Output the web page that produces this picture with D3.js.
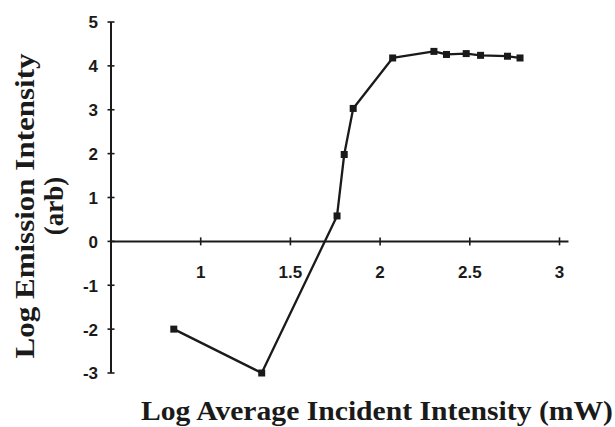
<!DOCTYPE html>
<html><head><meta charset="utf-8">
<script src="https://cdn.jsdelivr.net/npm/d3@7"></script>
<style>body{margin:0;background:#fff}svg{display:block}</style>
</head><body>
<svg id="c" width="615" height="427"></svg>
<script>
const xValues = [0.85, 1.34, 1.76, 1.80, 1.85, 2.07, 2.30, 2.37, 2.48, 2.56, 2.71, 2.78];
const yValues = [-2.0, -3.0, 0.58, 1.98, 3.03, 4.18, 4.33, 4.26, 4.28, 4.24, 4.22, 4.18];
const xTicks = [1, 1.5, 2, 2.5, 3];
const xTickLabels = ["1", "1.5", "2", "2.5", "3"];
const yTicks = [-3, -2, -1, 0, 1, 2, 3, 4, 5];
const xTitle = "Log Average Incident Intensity (mW)";
const yTitle = ["Log Emission Intensity", "(arb)"];

const svg = d3.select("#c");
const x = d3.scaleLinear().domain([0.5, 3]).range([111, 559.5]);
const y = d3.scaleLinear().domain([-3, 5]).range([373, 22]);
const ink = "#1a1a1a";

// y axis
svg.append("line").attr("x1", x(0.5)).attr("x2", x(0.5)).attr("y1", y(5)).attr("y2", y(-3))
  .attr("stroke", ink).attr("stroke-width", 2);
svg.selectAll(".yt").data(yTicks).join("line")
  .attr("x1", x(0.5) - 3.5).attr("x2", x(0.5) + 3.5)
  .attr("y1", d => y(d)).attr("y2", d => y(d)).attr("stroke", ink).attr("stroke-width", 1.6);
svg.selectAll(".yl").data(yTicks).join("text")
  .attr("x", 98).attr("y", d => y(d) + 2).attr("text-anchor", "end").attr("dominant-baseline", "middle")
  .attr("font-family", "Liberation Sans, Arial, sans-serif").attr("font-weight", "bold").attr("font-size", 17)
  .attr("fill", ink).text(d => d);

// x axis at y=0
svg.append("line").attr("x1", x(0.5)).attr("x2", x(3.05)).attr("y1", y(0)).attr("y2", y(0))
  .attr("stroke", ink).attr("stroke-width", 2);
svg.selectAll(".xt").data(xTicks).join("line")
  .attr("x1", d => x(d)).attr("x2", d => x(d))
  .attr("y1", y(0) - 4).attr("y2", y(0) + 4).attr("stroke", ink).attr("stroke-width", 1.6);
svg.selectAll(".xl").data(xTicks).join("text")
  .attr("x", d => x(d)).attr("y", 278).attr("text-anchor", "middle")
  .attr("font-family", "Liberation Sans, Arial, sans-serif").attr("font-weight", "bold").attr("font-size", 17)
  .attr("fill", ink).text((d, i) => xTickLabels[i]);

// data line
const pts = xValues.map((v, i) => [v, yValues[i]]);
svg.append("path").datum(pts)
  .attr("d", d3.line().x(d => x(d[0])).y(d => y(d[1])))
  .attr("fill", "none").attr("stroke", ink).attr("stroke-width", 2.3).attr("stroke-linejoin", "round");
svg.selectAll(".pt").data(pts).join("rect")
  .attr("x", d => x(d[0]) - 3.5).attr("y", d => y(d[1]) - 3.5)
  .attr("width", 7).attr("height", 7).attr("fill", ink);

// titles
svg.append("text").attr("x", 141).attr("y", 420)
  .attr("font-family", "Liberation Serif, Times New Roman, serif").attr("font-weight", "bold").attr("font-size", 27)
  .attr("textLength", 472).attr("lengthAdjust", "spacingAndGlyphs")
  .attr("fill", ink).text(xTitle);
const yc = 206;
svg.append("text").attr("transform", `translate(34,${yc}) rotate(-90)`).attr("text-anchor", "middle")
  .attr("font-family", "Liberation Serif, Times New Roman, serif").attr("font-weight", "bold").attr("font-size", 27)
  .attr("textLength", 305).attr("lengthAdjust", "spacingAndGlyphs")
  .attr("fill", ink).text(yTitle[0]);
svg.append("text").attr("transform", `translate(63,${yc}) rotate(-90)`).attr("text-anchor", "middle")
  .attr("font-family", "Liberation Serif, Times New Roman, serif").attr("font-weight", "bold").attr("font-size", 27)
  .attr("fill", ink).text(yTitle[1]);
</script>
</body></html>
